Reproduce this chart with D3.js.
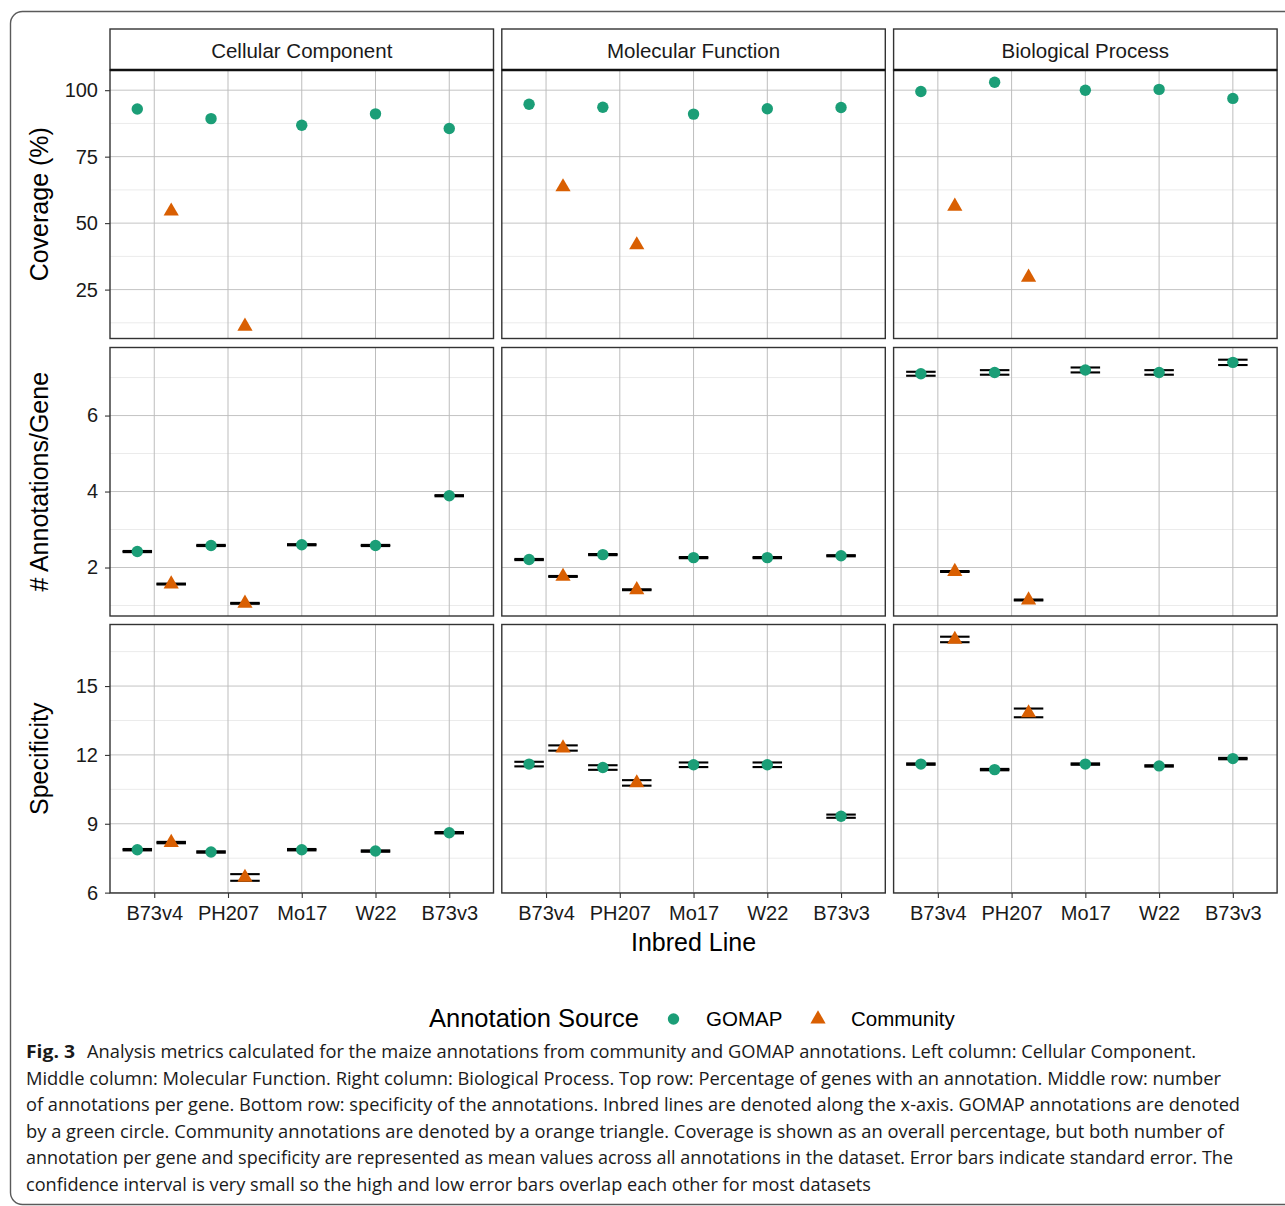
<!DOCTYPE html>
<html>
<head>
<meta charset="utf-8">
<script src="https://cdn.jsdelivr.net/npm/d3@7"></script>
<style>
  html, body { margin: 0; padding: 0; background: #fff; }
  svg { display: block; }
</style>
</head>
<body>
<svg id="chart" width="1285" height="1206"></svg>
<script>
// ---------------- DATA ----------------
const inbredLines = ["B73v4", "PH207", "Mo17", "W22", "B73v3"];
const aspects = ["Cellular Component", "Molecular Function", "Biological Process"];
const metricTitles = ["Coverage (%)", "# Annotations/Gene", "Specificity"];
const sources = ["GOMAP", "Community"];
const sourceColors = ["#1b9e77", "#d95f02"];

// Coverage (%) — rows: CC, MF, BP ; columns follow inbredLines
const coverageGomap = [
  [92.9, 89.3, 86.8, 91.1, 85.6],
  [94.7, 93.6, 91.0, 93.0, 93.5],
  [99.5, 103.0, 100.0, 100.3, 96.9]
];
const coverageCommunity = [
  [54.5, 11.2, null, null, null],
  [63.6, 41.8, null, null, null],
  [56.3, 29.6, null, null, null]
];

// # Annotations / Gene (mean and standard error)
const annotGomap = [
  [2.42, 2.58, 2.60, 2.58, 3.89],
  [2.21, 2.34, 2.26, 2.26, 2.31],
  [7.10, 7.135, 7.20, 7.135, 7.40]
];
const annotGomapSE = [
  [0.015, 0.015, 0.015, 0.015, 0.015],
  [0.015, 0.015, 0.015, 0.015, 0.015],
  [0.052, 0.06, 0.065, 0.06, 0.07]
];
const annotCommunity = [
  [1.565, 1.057, null, null, null],
  [1.765, 1.415, null, null, null],
  [1.895, 1.145, null, null, null]
];
const annotCommunitySE = [
  [0.012, 0.012, null, null, null],
  [0.012, 0.012, null, null, null],
  [0.012, 0.012, null, null, null]
];

// Specificity (mean and standard error)
const specGomap = [
  [7.87, 7.77, 7.87, 7.81, 8.61],
  [11.6, 11.45, 11.57, 11.57, 9.33],
  [11.6, 11.36, 11.6, 11.52, 11.84]
];
const specGomapSE = [
  [0.03, 0.03, 0.03, 0.03, 0.03],
  [0.10, 0.10, 0.10, 0.10, 0.07],
  [0.03, 0.03, 0.03, 0.03, 0.03]
];
const specCommunity = [
  [8.18, 6.66, null, null, null],
  [12.3, 10.78, null, null, null],
  [17.03, 13.83, null, null, null]
];
const specCommunitySE = [
  [0.03, 0.145, null, null, null],
  [0.115, 0.12, null, null, null],
  [0.12, 0.19, null, null, null]
];

// tick labels per metric row
const coverageTicks = [25, 50, 75, 100];
const annotTicks = [2, 4, 6];
const specTicks = [6, 9, 12, 15];

const legendTitle = "Annotation Source";
const xAxisTitle = "Inbred Line";
const captionBold = "Fig. 3";
const captionLines = [
  "Analysis metrics calculated for the maize annotations from community and GOMAP annotations. Left column: Cellular Component.",
  "Middle column: Molecular Function. Right column: Biological Process. Top row: Percentage of genes with an annotation. Middle row: number",
  "of annotations per gene. Bottom row: specificity of the annotations. Inbred lines are denoted along the x-axis. GOMAP annotations are denoted",
  "by a green circle. Community annotations are denoted by a orange triangle. Coverage is shown as an overall percentage, but both number of",
  "annotation per gene and specificity are represented as mean values across all annotations in the dataset. Error bars indicate standard error. The",
  "confidence interval is very small so the high and low error bars overlap each other for most datasets"
];

// ---------------- LAYOUT ----------------
const rowsData = [
  { ticks: coverageTicks, g: coverageGomap, gse: null, c: coverageCommunity, cse: null },
  { ticks: annotTicks, g: annotGomap, gse: annotGomapSE, c: annotCommunity, cse: annotCommunitySE },
  { ticks: specTicks, g: specGomap, gse: specGomapSE, c: specCommunity, cse: specCommunitySE }
];

const colX = [110, 501.8, 893.6];
const panelW = 383.5;
const rowY = [70, 347.5, 624.5];
const panelH = 268.5;
const stripTop = 29;
const FONT = "'Liberation Sans', Arial, Helvetica, sans-serif";

const svg = d3.select("#chart");
svg.append("rect").attr("width", 1285).attr("height", 1206).attr("fill", "#fff");

// outer frame (figure box)
svg.append("rect")
  .attr("x", 10.5).attr("y", 11.5).attr("width", 1300).attr("height", 1193)
  .attr("rx", 12).attr("ry", 12)
  .attr("fill", "none").attr("stroke", "#5a5a5a").attr("stroke-width", 1.4);

const x = d3.scalePoint().domain(inbredLines).range([0, panelW]).padding(0.6);
const step = x.step();
const dodge = 0.23 * step;
const ebHalf = 0.2 * step;

rowsData.forEach((rd, r) => {
  // y domain from data (+/- se), expanded 5%
  const vals = [];
  for (let a = 0; a < 3; a++) {
    for (let i = 0; i < inbredLines.length; i++) {
      [[rd.g, rd.gse], [rd.c, rd.cse]].forEach(([arr, se]) => {
        const v = arr[a][i];
        if (v == null) return;
        const e = se ? se[a][i] : 0;
        vals.push(v - e, v + e);
      });
    }
  }
  const lo = d3.min(vals), hi = d3.max(vals);
  const pad = (hi - lo) * 0.05;
  const y = d3.scaleLinear().domain([lo - pad, hi + pad]).range([panelH, 0]);
  const tstep = rd.ticks[1] - rd.ticks[0];
  const minor = [];
  for (let t = rd.ticks[0] - tstep / 2; t <= hi + pad; t += tstep) {
    if (t >= lo - pad && t <= hi + pad) minor.push(t);
  }

  // axis title
  svg.append("text")
    .attr("transform", `translate(48,${rowY[r] + panelH / 2}) rotate(-90)`)
    .attr("text-anchor", "middle")
    .attr("font-family", FONT).attr("font-size", 25).attr("fill", "#000")
    .text(metricTitles[r]);

  // y axis
  const yAxisG = svg.append("g").attr("transform", `translate(${colX[0]},${rowY[r]})`)
    .call(d3.axisLeft(y).tickValues(rd.ticks).tickSize(5).tickPadding(7).tickFormat(d3.format("d")));
  yAxisG.select(".domain").remove();
  yAxisG.selectAll(".tick line").attr("stroke", "#333").attr("stroke-width", 1.1);
  yAxisG.selectAll(".tick text").attr("font-family", FONT).attr("font-size", 20).attr("fill", "#1a1a1a");

  for (let a = 0; a < 3; a++) {
    const g = svg.append("g").attr("transform", `translate(${colX[a]},${rowY[r]})`);
    // minor grid
    g.selectAll(".minor").data(minor).join("line")
      .attr("x1", 0).attr("x2", panelW).attr("y1", d => y(d)).attr("y2", d => y(d))
      .attr("stroke", "#ebebeb").attr("stroke-width", 1);
    // major grid
    g.selectAll(".major").data(rd.ticks).join("line")
      .attr("x1", 0).attr("x2", panelW).attr("y1", d => y(d)).attr("y2", d => y(d))
      .attr("stroke", "#c4c4c4").attr("stroke-width", 1);
    g.selectAll(".vgrid").data(inbredLines).join("line")
      .attr("x1", d => x(d)).attr("x2", d => x(d)).attr("y1", 0).attr("y2", panelH)
      .attr("stroke", "#bdbdbd").attr("stroke-width", 1);

    // build points
    const pts = [];
    inbredLines.forEach((ln, i) => {
      const hasC = rd.c[a][i] != null;
      pts.push({ src: 0, v: rd.g[a][i], se: rd.gse ? rd.gse[a][i] : null,
                 cx: x(ln) + (hasC ? -dodge : 0) });
      if (hasC) pts.push({ src: 1, v: rd.c[a][i], se: rd.cse ? rd.cse[a][i] : null,
                           cx: x(ln) + dodge });
    });

    // error bars
    const eb = pts.filter(p => p.se != null);
    const ebG = g.append("g").attr("stroke", "#000").attr("stroke-width", 2.1).attr("fill", "none");
    eb.forEach(p => {
      const yt = y(p.v + p.se), yb = y(p.v - p.se);
      ebG.append("line").attr("x1", p.cx - ebHalf).attr("x2", p.cx + ebHalf).attr("y1", yt).attr("y2", yt);
      ebG.append("line").attr("x1", p.cx - ebHalf).attr("x2", p.cx + ebHalf).attr("y1", yb).attr("y2", yb);
      ebG.append("line").attr("x1", p.cx).attr("x2", p.cx).attr("y1", yt).attr("y2", yb);
    });

    // points
    g.selectAll(".pt").data(pts).join("path")
      .attr("transform", p => `translate(${p.cx},${y(p.v)})`)
      .attr("d", p => p.src === 0
        ? d3.symbol(d3.symbolCircle, Math.PI * 5.7 * 5.7)()
        : d3.symbol(d3.symbolTriangle, 100)())
      .attr("fill", p => sourceColors[p.src]);

    // panel border
    g.append("rect").attr("x", 0).attr("y", 0).attr("width", panelW).attr("height", panelH)
      .attr("fill", "none").attr("stroke", "#333").attr("stroke-width", 1.4);

    // strip
    if (r === 0) {
      const sg = svg.append("g").attr("transform", `translate(${colX[a]},${stripTop})`);
      sg.append("rect").attr("x", 0).attr("y", 0).attr("width", panelW).attr("height", rowY[0] - stripTop)
        .attr("fill", "#fff").attr("stroke", "#333").attr("stroke-width", 1.4);
      sg.append("line").attr("x1", 0).attr("x2", panelW)
        .attr("y1", rowY[0] - stripTop).attr("y2", rowY[0] - stripTop)
        .attr("stroke", "#111").attr("stroke-width", 2.6);
      sg.append("text").attr("x", panelW / 2).attr("y", 29)
        .attr("text-anchor", "middle").attr("font-family", FONT).attr("font-size", 20.5).attr("fill", "#1a1a1a")
        .text(aspects[a]);
    }

    // bottom x axis
    if (r === 2) {
      const xg = svg.append("g").attr("transform", `translate(${colX[a]},${rowY[r] + panelH})`)
        .call(d3.axisBottom(x).tickSize(5).tickPadding(8));
      xg.select(".domain").remove();
      xg.selectAll(".tick line").attr("stroke", "#333").attr("stroke-width", 1.1);
      xg.selectAll(".tick text").attr("font-family", FONT).attr("font-size", 20).attr("fill", "#1a1a1a");
    }
  }
});

// x axis title
svg.append("text")
  .attr("x", colX[1] + panelW / 2).attr("y", 951)
  .attr("text-anchor", "middle").attr("font-family", FONT).attr("font-size", 25).attr("fill", "#000")
  .text(xAxisTitle);

// legend
const lg = svg.append("g");
lg.append("text").attr("x", 429).attr("y", 1027)
  .attr("font-family", FONT).attr("font-size", 25.5).attr("fill", "#000").text(legendTitle);
const legendItems = [
  { sym: d3.symbolCircle, size: Math.PI * 5.7 * 5.7, sx: 673.5, tx: 706 },
  { sym: d3.symbolTriangle, size: 100, sx: 818, tx: 851 }
];
legendItems.forEach((it, k) => {
  lg.append("path").attr("transform", `translate(${it.sx},${1019})`)
    .attr("d", d3.symbol(it.sym, it.size)()).attr("fill", sourceColors[k]);
  lg.append("text").attr("x", it.tx).attr("y", 1026)
    .attr("font-family", FONT).attr("font-size", 20.5).attr("fill", "#000").text(sources[k]);
});

// caption
const CAP = "'Open Sans', 'Noto Sans', sans-serif";
const capEnds = [1196, 1221, 1240, 1224, 1233, 871];
const capBase = 1058;
const capLead = 26.5;
svg.append("text").attr("x", 26).attr("y", capBase)
  .attr("font-family", CAP).attr("font-weight", 700).attr("font-size", 18)
  .attr("textLength", 49).attr("lengthAdjust", "spacingAndGlyphs").attr("fill", "#1a1a1a")
  .text(captionBold);
captionLines.forEach((ln, i) => {
  const x0 = i === 0 ? 87 : 26;
  svg.append("text").attr("x", x0).attr("y", capBase + i * capLead)
    .attr("font-family", CAP).attr("font-size", 18).attr("fill", "#1a1a1a")
    .attr("textLength", capEnds[i] - x0).attr("lengthAdjust", "spacingAndGlyphs")
    .text(ln);
});
</script>
</body>
</html>
